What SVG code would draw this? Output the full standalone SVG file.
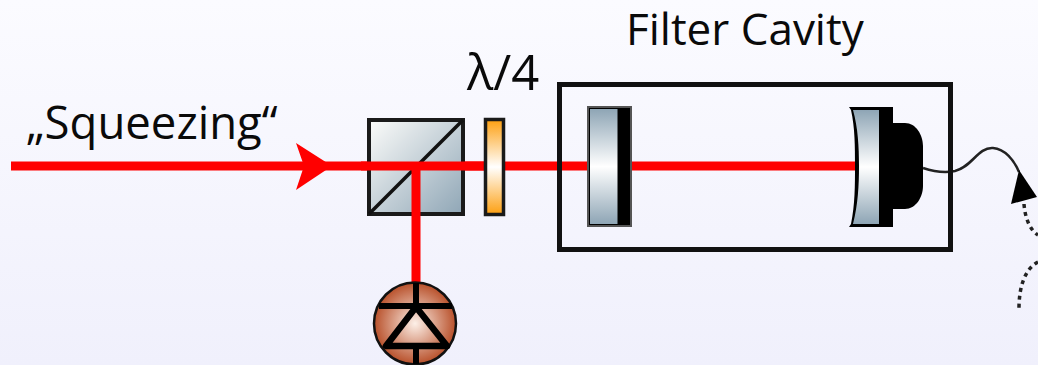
<svg xmlns="http://www.w3.org/2000/svg" width="1038" height="365" viewBox="0 0 1038 365">
<style>
text{font-family:"Open Sans","Liberation Sans",sans-serif;fill:#0a0a0a}
.beam{stroke:#f00;stroke-width:9;fill:none}
.dot{stroke:#222;stroke-width:3.500;stroke-dasharray:4 4;fill:none}
</style>
<defs>
<linearGradient id="bg" x1="0" y1="0" x2="0" y2="1"><stop offset="0" stop-color="#fbfbff"/><stop offset="1" stop-color="#f0f0fc"/></linearGradient>
<linearGradient id="cube" x1="0" y1="0" x2="1" y2="1"><stop offset="0" stop-color="#fcfcfa"/><stop offset="1" stop-color="#8fa6b6"/></linearGradient>
<linearGradient id="glass" x1="0" y1="0" x2="0" y2="1"><stop offset="0" stop-color="#8ea5b5"/><stop offset=".5" stop-color="#fff"/><stop offset="1" stop-color="#8ea5b5"/></linearGradient>
<linearGradient id="wp" x1="0" y1="0" x2="0" y2="1"><stop offset="0" stop-color="#fd9f10"/><stop offset=".5" stop-color="#fff"/><stop offset="1" stop-color="#fd9f10"/></linearGradient>
<radialGradient id="pd" cx=".5" cy=".5" r=".5"><stop offset="0" stop-color="#fdf0e8"/><stop offset="1" stop-color="#b8502a"/></radialGradient>
</defs>
<rect width="1038" height="365" fill="url(#bg)"/>
<g id="connectors">
<path class="beam" d="M11 166H590"/>
<path class="beam" d="M632 166H858"/>
<path class="beam" d="M416 166V284"/>
<path d="M296 143L332 166L296 190L304 166Z" fill="#f00"/>
<path d="M923 168C935 172 945 173 955 171C972 167 978 147 993 148C1005 149 1014 160 1019 172" fill="none" stroke="#222" stroke-width="2.500"/>
<path d="M1019 170L1037 197L1011 204Z" fill="#000"/>
<path class="dot" d="M1024 204C1025 218 1030 230 1038 235"/>
<path class="dot" d="M1038 262C1026 268 1019 285 1019 308"/>
</g>
<g id="beamsplitter">
<rect x="369" y="120" width="94" height="94" fill="url(#cube)" stroke="#1a1a1a" stroke-width="4"/>
<path d="M369 214L463 120" stroke="#111" stroke-width="3.500"/>
<path class="beam" d="M361 166H484"/>
<path class="beam" d="M416 166V216"/>
</g>
<g id="waveplate">
<rect x="485.500" y="119.500" width="18" height="95" fill="url(#wp)" stroke="#1a1a1a" stroke-width="3.500"/>
</g>
<g id="photodiode">
<circle cx="415" cy="323.500" r="41" fill="url(#pd)" stroke="#111" stroke-width="2.500"/>
<path d="M416 283V306M416 346V364M379 306H452" fill="none" stroke="#000" stroke-width="6"/>
<path d="M416 307L386 346H447Z" fill="none" stroke="#000" stroke-width="6.500" stroke-linejoin="round"/>
</g>
<g id="cavity">
<rect x="559.500" y="84.500" width="391" height="165" fill="none" stroke="#111" stroke-width="5"/>
</g>
<g id="input-mirror">
<rect x="588" y="107" width="43" height="119" fill="#000" stroke="#555" stroke-width="2"/>
<rect x="590" y="109" width="27.500" height="115" fill="url(#glass)"/>
</g>
<g id="end-mirror">
<path d="M849 107H893V123H905C916 123 923 135 923 146V186C923 197 916 209 905 209H893V227H849L851 224C855 205 855 185 855 166C855 147 855 128 851 110Z" fill="#000"/>
<path d="M853 110H879V224H853C858 205 859 185 859 166C859 147 858 128 853 110Z" fill="url(#glass)"/>
</g>
<text id="label-squeezing" x="26" y="139" font-size="45.500">„Squeezing“</text>
<text id="label-waveplate" x="467" y="90" font-size="49">λ/4</text>
<text id="label-cavity" x="626" y="45" font-size="44">Filter Cavity</text>
</svg>
